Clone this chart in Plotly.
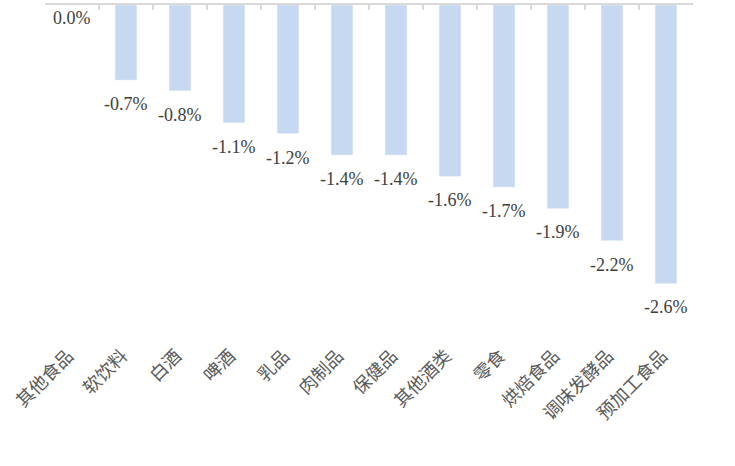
import plotly.graph_objects as go

categories = ["其他食品", "软饮料", "白酒", "啤酒", "乳品", "肉制品", "保健品",
              "其他酒类", "零食", "烘焙食品", "调味发酵品", "预加工食品"]
values = [0.0, -0.7, -0.8, -1.1, -1.2, -1.4, -1.4, -1.6, -1.7, -1.9, -2.2, -2.6]
labels = [f"{v:.1f}%" for v in values]

fig = go.Figure()
fig.add_trace(go.Bar(
    x=categories, y=values, marker_color="#C6D9F1",
    hoverinfo="skip", showlegend=False,
))
fig.add_trace(go.Scatter(
    x=categories, y=values, xaxis="x2", mode="markers",
    marker=dict(opacity=0), hoverinfo="skip", showlegend=False,
))

for c, v, t in zip(categories, values, labels):
    fig.add_annotation(
        x=c, y=v, text=t, showarrow=False, yanchor="top",
        yshift=-12 if v < 0 else -1,
        font=dict(family="Liberation Serif", size=18, color="#404040"),
    )

n = len(categories)
fig.update_layout(
    width=735, height=466,
    margin=dict(l=45, r=42, t=5, b=129),
    paper_bgcolor="white", plot_bgcolor="white",
    bargap=0.6,
    xaxis=dict(
        side="top", showline=True, linecolor="#D9D9D9", linewidth=1.5,
        ticks="inside", ticklen=5, tickcolor="#D9D9D9", tickwidth=1.5,
        tickson="boundaries", showticklabels=False, showgrid=False,
        zeroline=False, automargin=False, range=[-0.5, n - 0.5],
    ),
    xaxis2=dict(
        overlaying="x", side="bottom", anchor="y", showline=False,
        ticks="", tickangle=-45, showgrid=False, zeroline=False,
        automargin=False, ticklabelstandoff=4, range=[-0.43, n - 0.43],
        tickfont=dict(family="Noto Sans CJK SC", size=18, color="#595959"),
    ),
    yaxis=dict(
        range=[-3.1, 0], visible=False, showgrid=False, zeroline=False,
        automargin=False,
    ),
)

fig.write_html(
    "out.html",
    config={"displayModeBar": False},
    post_script="document.body.style.margin='0';",
)
